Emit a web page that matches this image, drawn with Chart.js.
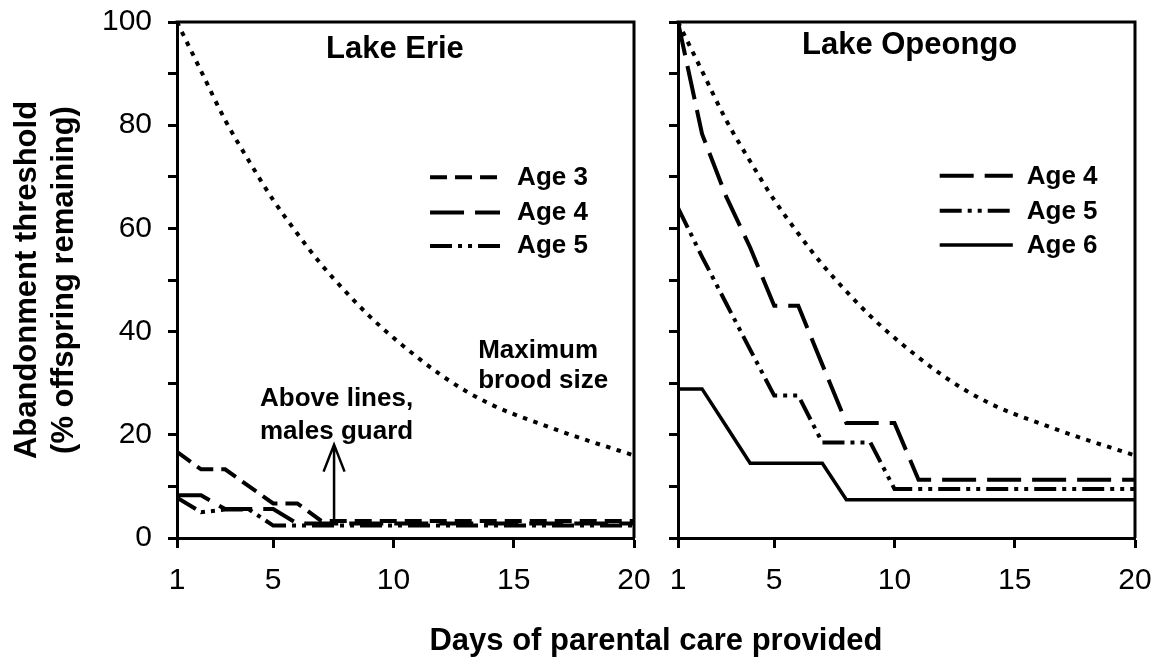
<!DOCTYPE html>
<html>
<head>
<meta charset="utf-8">
<script src="https://cdn.jsdelivr.net/npm/chart.js@4"></script>
<style>
  html, body { margin: 0; padding: 0; background: #fff; }
  #wrap { position: relative; width: 1166px; height: 666px; overflow: hidden; }
  canvas { position: absolute; top: 0; }
  #erie { left: 0; }
  #opeongo { left: 656px; }
  #xtitle {
    position: absolute; left: 356px; width: 600px; top: 620px;
    text-align: center; font: bold 31px "Liberation Sans", Arial, sans-serif;
    line-height: 40px; color: #000;
  }
</style>
</head>
<body>
<div id="wrap">
  <canvas id="erie" width="656" height="666"></canvas>
  <canvas id="opeongo" width="510" height="666"></canvas>
  <div id="xtitle">Days of parental care provided</div>
</div>
<script>
const FONT = "'Liberation Sans', Arial, sans-serif";

// days of care (x)
const days = [1, 2, 3, 4, 5, 6, 7, 8, 9, 10, 11, 12, 13, 14, 15, 16, 17, 18, 19, 20];
const xTicks = [1, 5, 10, 15, 20];
const yTicks = [0, 20, 40, 60, 80, 100];

// maximum brood size (same curve in both panels)
const maxBrood = [100, 90.5, 81, 73, 65.5, 59, 53, 47.8, 43, 38.8, 35, 31.5, 28.5, 26, 24, 22.3, 20.6, 19, 17.5, 16];

// Lake Erie
const erieAge3 = [16.7, 13.3, 13.3, 10, 6.7, 6.7, 3.3, 3.3, 3.3, 3.3, 3.3, 3.3, 3.3, 3.3, 3.3, 3.3, 3.3, 3.3, 3.3, 3.3];
const erieAge4 = [8.3, 8.3, 5.6, 5.6, 5.6, 2.8, 2.8, 2.8, 2.8, 2.8, 2.8, 2.8, 2.8, 2.8, 2.8, 2.8, 2.8, 2.8, 2.8, 2.8];
const erieAge5 = [7.8, 5.0, 5.5, 5.5, 2.4, 2.4, 2.4, 2.4, 2.4, 2.4, 2.4, 2.4, 2.4, 2.4, 2.4, 2.4, 2.4, 2.4, 2.4, 2.4];

// Lake Opeongo
const opeAge4 = [100, 78.3, 66.2, 56.3, 45, 45, 33.6, 22.3, 22.3, 22.3, 11.3, 11.3, 11.3, 11.3, 11.3, 11.3, 11.3, 11.3, 11.3, 11.3];
const opeAge5 = [64, 54.5, 45.5, 36.5, 27.6, 27.6, 18.5, 18.5, 18.5, 9.5, 9.5, 9.5, 9.5, 9.5, 9.5, 9.5, 9.5, 9.5, 9.5, 9.5];
const opeAge6 = [28.9, 28.9, 21.7, 14.5, 14.5, 14.5, 14.5, 7.4, 7.4, 7.4, 7.4, 7.4, 7.4, 7.4, 7.4, 7.4, 7.4, 7.4, 7.4, 7.4];

const DOTTED = [4.5, 6.5];
const SHORT = [17, 8];
const LONG = [34, 11];
const DASHDOTDOT = [22, 6, 4, 6, 4, 6];

function series(label, values, dash, width, smooth) {
  return {
    label: label,
    data: days.map((d, i) => ({ x: d, y: values[i] })),
    borderColor: '#000',
    borderWidth: width,
    borderDash: dash,
    borderCapStyle: 'butt',
    borderJoinStyle: 'miter',
    pointRadius: 0,
    fill: false,
    tension: 0,
    cubicInterpolationMode: smooth ? 'monotone' : 'default',
    inLegend: !smooth
  };
}

// frame, panel title, legend, notes and arrow
const panelDecor = {
  id: 'panelDecor',
  afterDatasetsDraw(chart, args, opts) {
    const { ctx, chartArea: a, scales: { x, y } } = chart;
    const px = v => x.getPixelForValue(v);
    const py = v => y.getPixelForValue(v);
    ctx.save();
    ctx.strokeStyle = '#000';
    ctx.fillStyle = '#000';

    ctx.lineWidth = 3;
    ctx.setLineDash([]);
    ctx.beginPath();
    ctx.moveTo(a.left - 1.5, a.top);
    ctx.lineTo(a.right, a.top);
    ctx.lineTo(a.right, a.bottom);
    ctx.stroke();

    ctx.font = 'bold 31px ' + FONT;
    ctx.textAlign = 'center';
    ctx.textBaseline = 'alphabetic';
    ctx.fillText(opts.title.text, px(opts.title.x), py(opts.title.y));

    ctx.font = 'bold 26px ' + FONT;
    ctx.textAlign = 'left';
    const items = chart.data.datasets.filter(d => d.inLegend);
    items.forEach((d, i) => {
      const ly = py(opts.legend.lineY[i]);
      ctx.lineWidth = d.borderWidth;
      ctx.lineCap = 'butt';
      ctx.setLineDash(d.borderDash);
      ctx.beginPath();
      ctx.moveTo(px(opts.legend.x1), ly);
      ctx.lineTo(px(opts.legend.x2), ly);
      ctx.stroke();
      ctx.setLineDash([]);
      ctx.fillText(d.label, px(opts.legend.textX), py(opts.legend.textY[i]));
    });

    (opts.notes || []).forEach(n => {
      ctx.fillText(n.text, px(n.x), py(n.y));
    });

    if (opts.arrow) {
      const ax = px(opts.arrow.x), y0 = py(opts.arrow.from), y1 = py(opts.arrow.to);
      ctx.lineWidth = 2.5;
      ctx.beginPath();
      ctx.moveTo(ax, y0);
      ctx.lineTo(ax, y1);
      ctx.moveTo(ax - 10.5, y1 + 27);
      ctx.lineTo(ax, y1);
      ctx.lineTo(ax + 10.5, y1 + 27);
      ctx.stroke();
    }
    ctx.restore();
  }
};

function makeScales(yWidth, showLabels) {
  return {
    x: {
      type: 'linear', min: 1, max: 20,
      afterBuildTicks: s => { s.ticks = xTicks.map(v => ({ value: v })); },
      afterFit: s => {
        s.height = 128;
        s.paddingLeft = 0; s.paddingRight = 0;
        s.paddingTop = 0; s.paddingBottom = 0;
      },
      grid: { drawOnChartArea: false, drawTicks: true, tickLength: 10, tickWidth: 3, color: '#000' },
      border: { display: true, color: '#000', width: 3 },
      ticks: { color: '#000', font: { family: FONT, size: 30 }, padding: 15, maxRotation: 0, autoSkip: false }
    },
    y: {
      min: 0, max: 100,
      afterFit: s => {
        s.width = yWidth;
        s.paddingLeft = 0; s.paddingRight = 0;
        s.paddingTop = 0; s.paddingBottom = 0;
      },
      grid: { drawOnChartArea: false, drawTicks: true, tickLength: 9, tickWidth: 3, color: '#000' },
      border: { display: true, color: '#000', width: 3 },
      ticks: {
        stepSize: 10, autoSkip: false, color: '#000', padding: 16,
        font: { family: FONT, size: 30 },
        callback: v => (showLabels && yTicks.includes(v)) ? v : ''
      },
      title: {
        display: showLabels,
        text: ['Abandonment threshold', '(% offspring remaining)'],
        color: '#000',
        font: { family: FONT, size: 31, weight: 'bold', lineHeight: 1.2 },
        padding: { top: 9, bottom: 0 }
      }
    }
  };
}

const common = {
  responsive: false,
  animation: false,
  devicePixelRatio: 1,
  events: []
};

new Chart(document.getElementById('erie'), {
  type: 'line',
  data: {
    datasets: [
      series('Maximum brood size', maxBrood, DOTTED, 4, true),
      series('Age 3', erieAge3, SHORT, 4, false),
      series('Age 4', erieAge4, LONG, 4, false),
      series('Age 5', erieAge5, DASHDOTDOT, 4, false)
    ]
  },
  options: Object.assign({}, common, {
    layout: { padding: { left: 0, top: 22, right: 22, bottom: 0 } },
    scales: makeScales(177, true),
    plugins: {
      legend: { display: false },
      tooltip: { enabled: false },
      panelDecor: {
        title: { text: 'Lake Erie', x: 10.06, y: 93.0 },
        legend: { x1: 11.52, x2: 14.43, textX: 15.14, lineY: [69.9, 63.1, 56.6], textY: [68.4, 61.6, 55.2] },
        notes: [
          { text: 'Maximum', x: 13.52, y: 34.8 },
          { text: 'brood size', x: 13.52, y: 29.0 },
          { text: 'Above lines,', x: 4.45, y: 25.5 },
          { text: 'males guard', x: 4.45, y: 19.1 }
        ],
        arrow: { x: 7.53, from: 3.6, to: 18.1 }
      }
    }
  }),
  plugins: [panelDecor]
});

new Chart(document.getElementById('opeongo'), {
  type: 'line',
  data: {
    datasets: [
      series('Maximum brood size', maxBrood, DOTTED, 4, true),
      series('Age 4', opeAge4, LONG, 4, false),
      series('Age 5', opeAge5, DASHDOTDOT, 4, false),
      series('Age 6', opeAge6, [], 3.5, false)
    ]
  },
  options: Object.assign({}, common, {
    layout: { padding: { left: 0, top: 22, right: 31, bottom: 0 } },
    scales: makeScales(22, false),
    plugins: {
      legend: { display: false },
      tooltip: { enabled: false },
      panelDecor: {
        title: { text: 'Lake Opeongo', x: 10.63, y: 93.8 },
        legend: { x1: 11.88, x2: 14.92, textX: 15.5, lineY: [70.2, 63.4, 56.8], textY: [68.7, 61.9, 55.3] }
      }
    }
  }),
  plugins: [panelDecor]
});
</script>
</body>
</html>
